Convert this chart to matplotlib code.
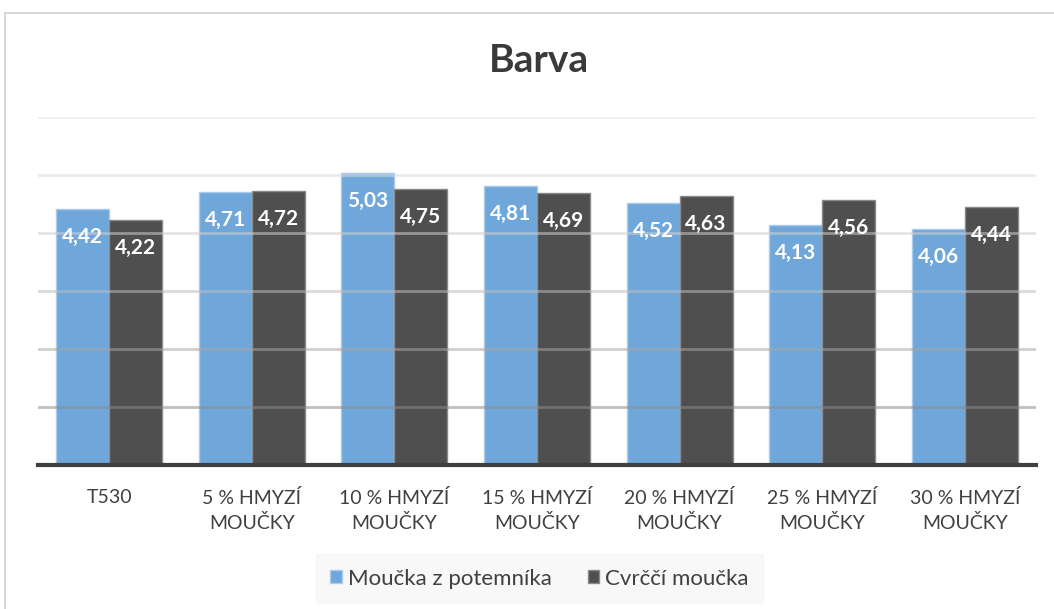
import numpy as np
import matplotlib
matplotlib.use("Agg")
import matplotlib.pyplot as plt
from matplotlib.patches import Rectangle

plt.rcParams['font.family'] = ['Lato', 'DejaVu Sans']

categories = ["T530", "5 % HMYZÍ\nMOUČKY", "10 % HMYZÍ\nMOUČKY", "15 % HMYZÍ\nMOUČKY",
              "20 % HMYZÍ\nMOUČKY", "25 % HMYZÍ\nMOUČKY", "30 % HMYZÍ\nMOUČKY"]
potemnik = [4.42, 4.71, 5.03, 4.81, 4.52, 4.13, 4.06]
cvrcci = [4.22, 4.72, 4.75, 4.69, 4.63, 4.56, 4.44]
series_names = ["Moučka z potemníka", "Cvrččí moučka"]


def fmt(v):
    return f"{v:.2f}".replace(".", ",")


fig = plt.figure(figsize=(10.54, 6.09), dpi=100)
# vnejsi ramecek grafu (na obrazku presahuje vpravo a dole)
fig.patches.append(Rectangle((5 / 1054, -0.1), 1.2, 0.979 + 0.1, transform=fig.transFigure,
                             fill=False, edgecolor="#d0d0d0", linewidth=1.2))

ax = fig.add_axes([0.036, 0.2365, 0.947, 0.5715])
x = np.arange(len(categories))
w = 0.372

b1 = ax.bar(x - w / 2, potemnik, w, color="#70a7db", edgecolor="#a9cbec", linewidth=1,
            label=series_names[0], zorder=2)
b2 = ax.bar(x + w / 2, cvrcci, w, color="#4f4f4f", edgecolor="#8a8a8a", linewidth=1,
            label=series_names[1], zorder=2)

for bars, vals in ((b1, potemnik), (b2, cvrcci)):
    for r, v in zip(bars, vals):
        ax.annotate(fmt(v), (r.get_x() + r.get_width() / 2, v), xytext=(0, -28),
                    textcoords="offset pixels", ha="center", va="center",
                    color="white", fontsize=15, fontweight="bold", zorder=4)

# mrizka pres sloupce, dole tmavsi
grid_cols = {1: "#8c8c8c", 2: "#a6a6a6", 3: "#bdbdbd", 4: "#cfcfcf", 5: "#dcdcdc", 6: "#e4e4e4"}
for yv, c in grid_cols.items():
    ax.axhline(yv, color=c, linewidth=2, alpha=0.55, zorder=3)

ax.set_ylim(0, 6)
ax.set_xlim(-0.5, len(categories) - 0.5)
ax.set_yticks([])
ax.set_xticks(x)
ax.set_xticklabels(categories, fontsize=14, color="#404040", linespacing=1.5)
ax.tick_params(axis="x", length=0, pad=17)
for s in ("top", "right", "left"):
    ax.spines[s].set_visible(False)
ax.spines["bottom"].set_color("#3f3f3f")
ax.spines["bottom"].set_linewidth(3)
ax.spines["bottom"].set_zorder(5)

fig.text(0.511, 0.9, "Barva", ha="center", va="center", fontsize=28, fontweight="bold",
         color="#3a3a3a")

leg = fig.legend(handles=[b1, b2], loc="center", bbox_to_anchor=(0.512, 0.05), ncol=2,
                 frameon=True, fontsize=16, handlelength=0.5, handleheight=0.5,
                 handletextpad=0.3, columnspacing=1.6, borderpad=0.65,
                 borderaxespad=0)
leg.get_frame().set_facecolor("#f7f7f7")
leg.get_frame().set_edgecolor("#f7f7f7")
leg.get_frame().set_boxstyle("square", pad=0)
for t in leg.get_texts():
    t.set_color("#404040")

fig.savefig("out.png", dpi=100, facecolor="white")
